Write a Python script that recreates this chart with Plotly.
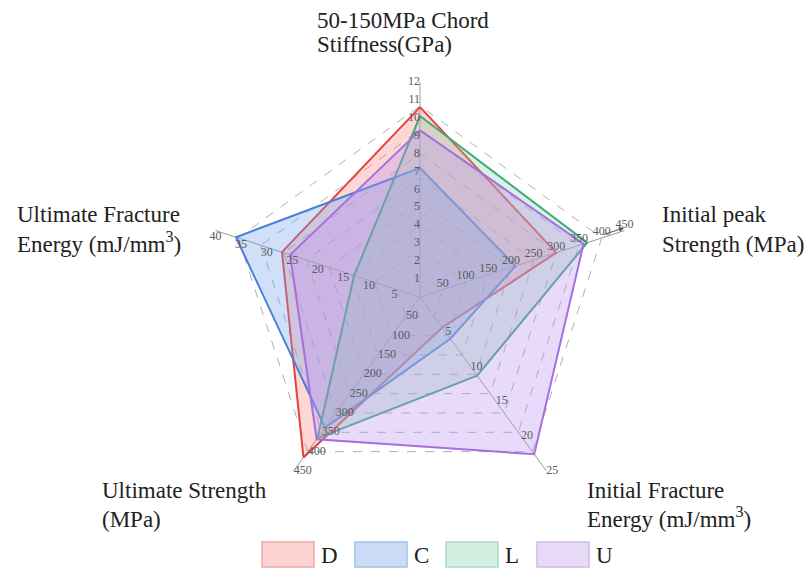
import plotly.graph_objects as go

# ---- data ----
axes_names = ["Stiffness", "Initial peak Strength", "Initial Fracture Energy",
              "Ultimate Strength", "Ultimate Fracture Energy"]
axes_max = [12, 450, 25, 450, 40]

series_names = ["D", "C", "L", "U"]
D_vals = [10.6, 300, 4.4, 415, 27.0]
C_vals = [7.2, 210, 6.0, 338, 36.0]
L_vals = [10.1, 368, 11.3, 365, 12.9]
U_vals = [9.3, 360, 22.6, 368, 25.4]

ticks_stiff = [1, 2, 3, 4, 5, 6, 7, 8, 9, 10, 11, 12]
ticks_peak = [50, 100, 150, 200, 250, 300, 350, 400, 450]
ticks_ife = [5, 10, 15, 20, 25]
ticks_us = [50, 100, 150, 200, 250, 300, 350, 400, 450]
ticks_ufe = [5, 10, 15, 20, 25, 30, 35, 40]

line_colors = ["#e8413c", "#4a80d8", "#3fa87c", "#a56fe0"]
fill_colors = ["rgba(250,120,120,0.30)", "rgba(120,165,235,0.35)",
               "rgba(130,205,165,0.30)", "rgba(190,150,240,0.35)"]
box_fill = ["#fcd2d2", "#cadcf6", "#d3efe1", "#e8dbf7"]
box_line = ["#f2a5a5", "#a0c0ec", "#a9dcc2", "#d2b9ef"]

SERIF = "Liberation Serif, Times New Roman, serif"

fig = go.Figure()

for name, vals, lc, fc in zip(series_names, [D_vals, C_vals, L_vals, U_vals],
                              line_colors, fill_colors):
    r = [v / m for v, m in zip(vals, axes_max)]
    fig.add_trace(go.Scatterpolar(
        r=r + [r[0]], theta=axes_names + [axes_names[0]], mode="lines",
        fill="toself", fillcolor=fc, line=dict(color=lc, width=2),
        name=name, showlegend=False, hoverinfo="skip"))

# axis tick labels
tick_sets = [ticks_stiff, ticks_peak, ticks_ife, ticks_us, ticks_ufe]
positions = ["middle left", "top center", "middle right", "middle right", "bottom center"]
for th, mx, ticks, pos in zip(axes_names, axes_max, tick_sets, positions):
    fig.add_trace(go.Scatterpolar(
        r=[t / mx for t in ticks], theta=[th] * len(ticks), mode="text",
        text=[str(t) for t in ticks], textposition=pos,
        textfont=dict(family=SERIF, size=12, color="#5a5a5a"),
        showlegend=False, hoverinfo="skip", cliponaxis=False))

R = 215
cx, cy = 420, 297
W, H = 807, 572
fig.update_layout(
    width=W, height=H, margin=dict(l=0, r=0, t=0, b=0),
    paper_bgcolor="white", plot_bgcolor="white",
    font=dict(family=SERIF, color="#222222"),
    polar=dict(
        domain=dict(x=[(cx - R) / W, (cx + R) / W],
                    y=[(H - cy - R) / H, (H - cy + R) / H]),
        bgcolor="white",
        gridshape="linear",
        radialaxis=dict(range=[0, 1], tickvals=[i / 9 for i in range(1, 10)],
                        showticklabels=False, ticks="", showline=False,
                        gridcolor="#b0b0b0", griddash="dash", gridwidth=1),
        angularaxis=dict(type="category", categoryorder="array",
                         categoryarray=axes_names,
                         direction="clockwise", rotation=90,
                         showticklabels=False, ticks="", showline=False,
                         gridcolor="#9a9a9a", gridwidth=1),
    ),
)

# small arrow at the end of the "Initial peak" axis
fig.add_annotation(x=624 / W, y=1 - 228 / H, ax=-22, ay=7,
                   xref="paper", yref="paper",
                   text="", showarrow=True, arrowhead=2, arrowsize=1,
                   arrowwidth=1, arrowcolor="#555555")

# category labels (one annotation per line)
label_lines = [
    ("50-150MPa Chord", 315, 20, 23),
    ("Stiffness(GPa)", 315, 45, 23),
    ("Initial peak", 660, 215, 23),
    ("Strength (MPa)", 660, 244, 23),
    ("Initial Fracture", 585, 490, 23),
    ("Energy (mJ/mm<sup>3</sup>)", 585, 517, 23),
    ("Ultimate Strength", 100, 490, 23),
    ("(MPa)", 100, 519, 23),
    ("Ultimate Fracture", 15, 215, 23),
    ("Energy (mJ/mm<sup>3</sup>)", 15, 242, 23),
]
for txt, x, y, sz in label_lines:
    fig.add_annotation(text=txt, x=x / W, y=1 - y / H, xref="paper", yref="paper",
                       xanchor="left", yanchor="middle", showarrow=False,
                       font=dict(family=SERIF, size=sz, color="#222222"))

# legend
box_x = [262, 355, 446, 537]
for name, bx, bf, bl in zip(series_names, box_x, box_fill, box_line):
    fig.add_shape(type="rect", xref="paper", yref="paper",
                  x0=bx / W, x1=(bx + 52) / W, y0=1 - 567 / H, y1=1 - 542 / H,
                  fillcolor=bf, line=dict(color=bl, width=1.5))
    fig.add_annotation(text=name, x=(bx + 57) / W, y=1 - 555 / H, xref="paper",
                       yref="paper", xanchor="left", yanchor="middle", showarrow=False,
                       font=dict(family=SERIF, size=23, color="#222222"))

fig.write_html("out.html")
